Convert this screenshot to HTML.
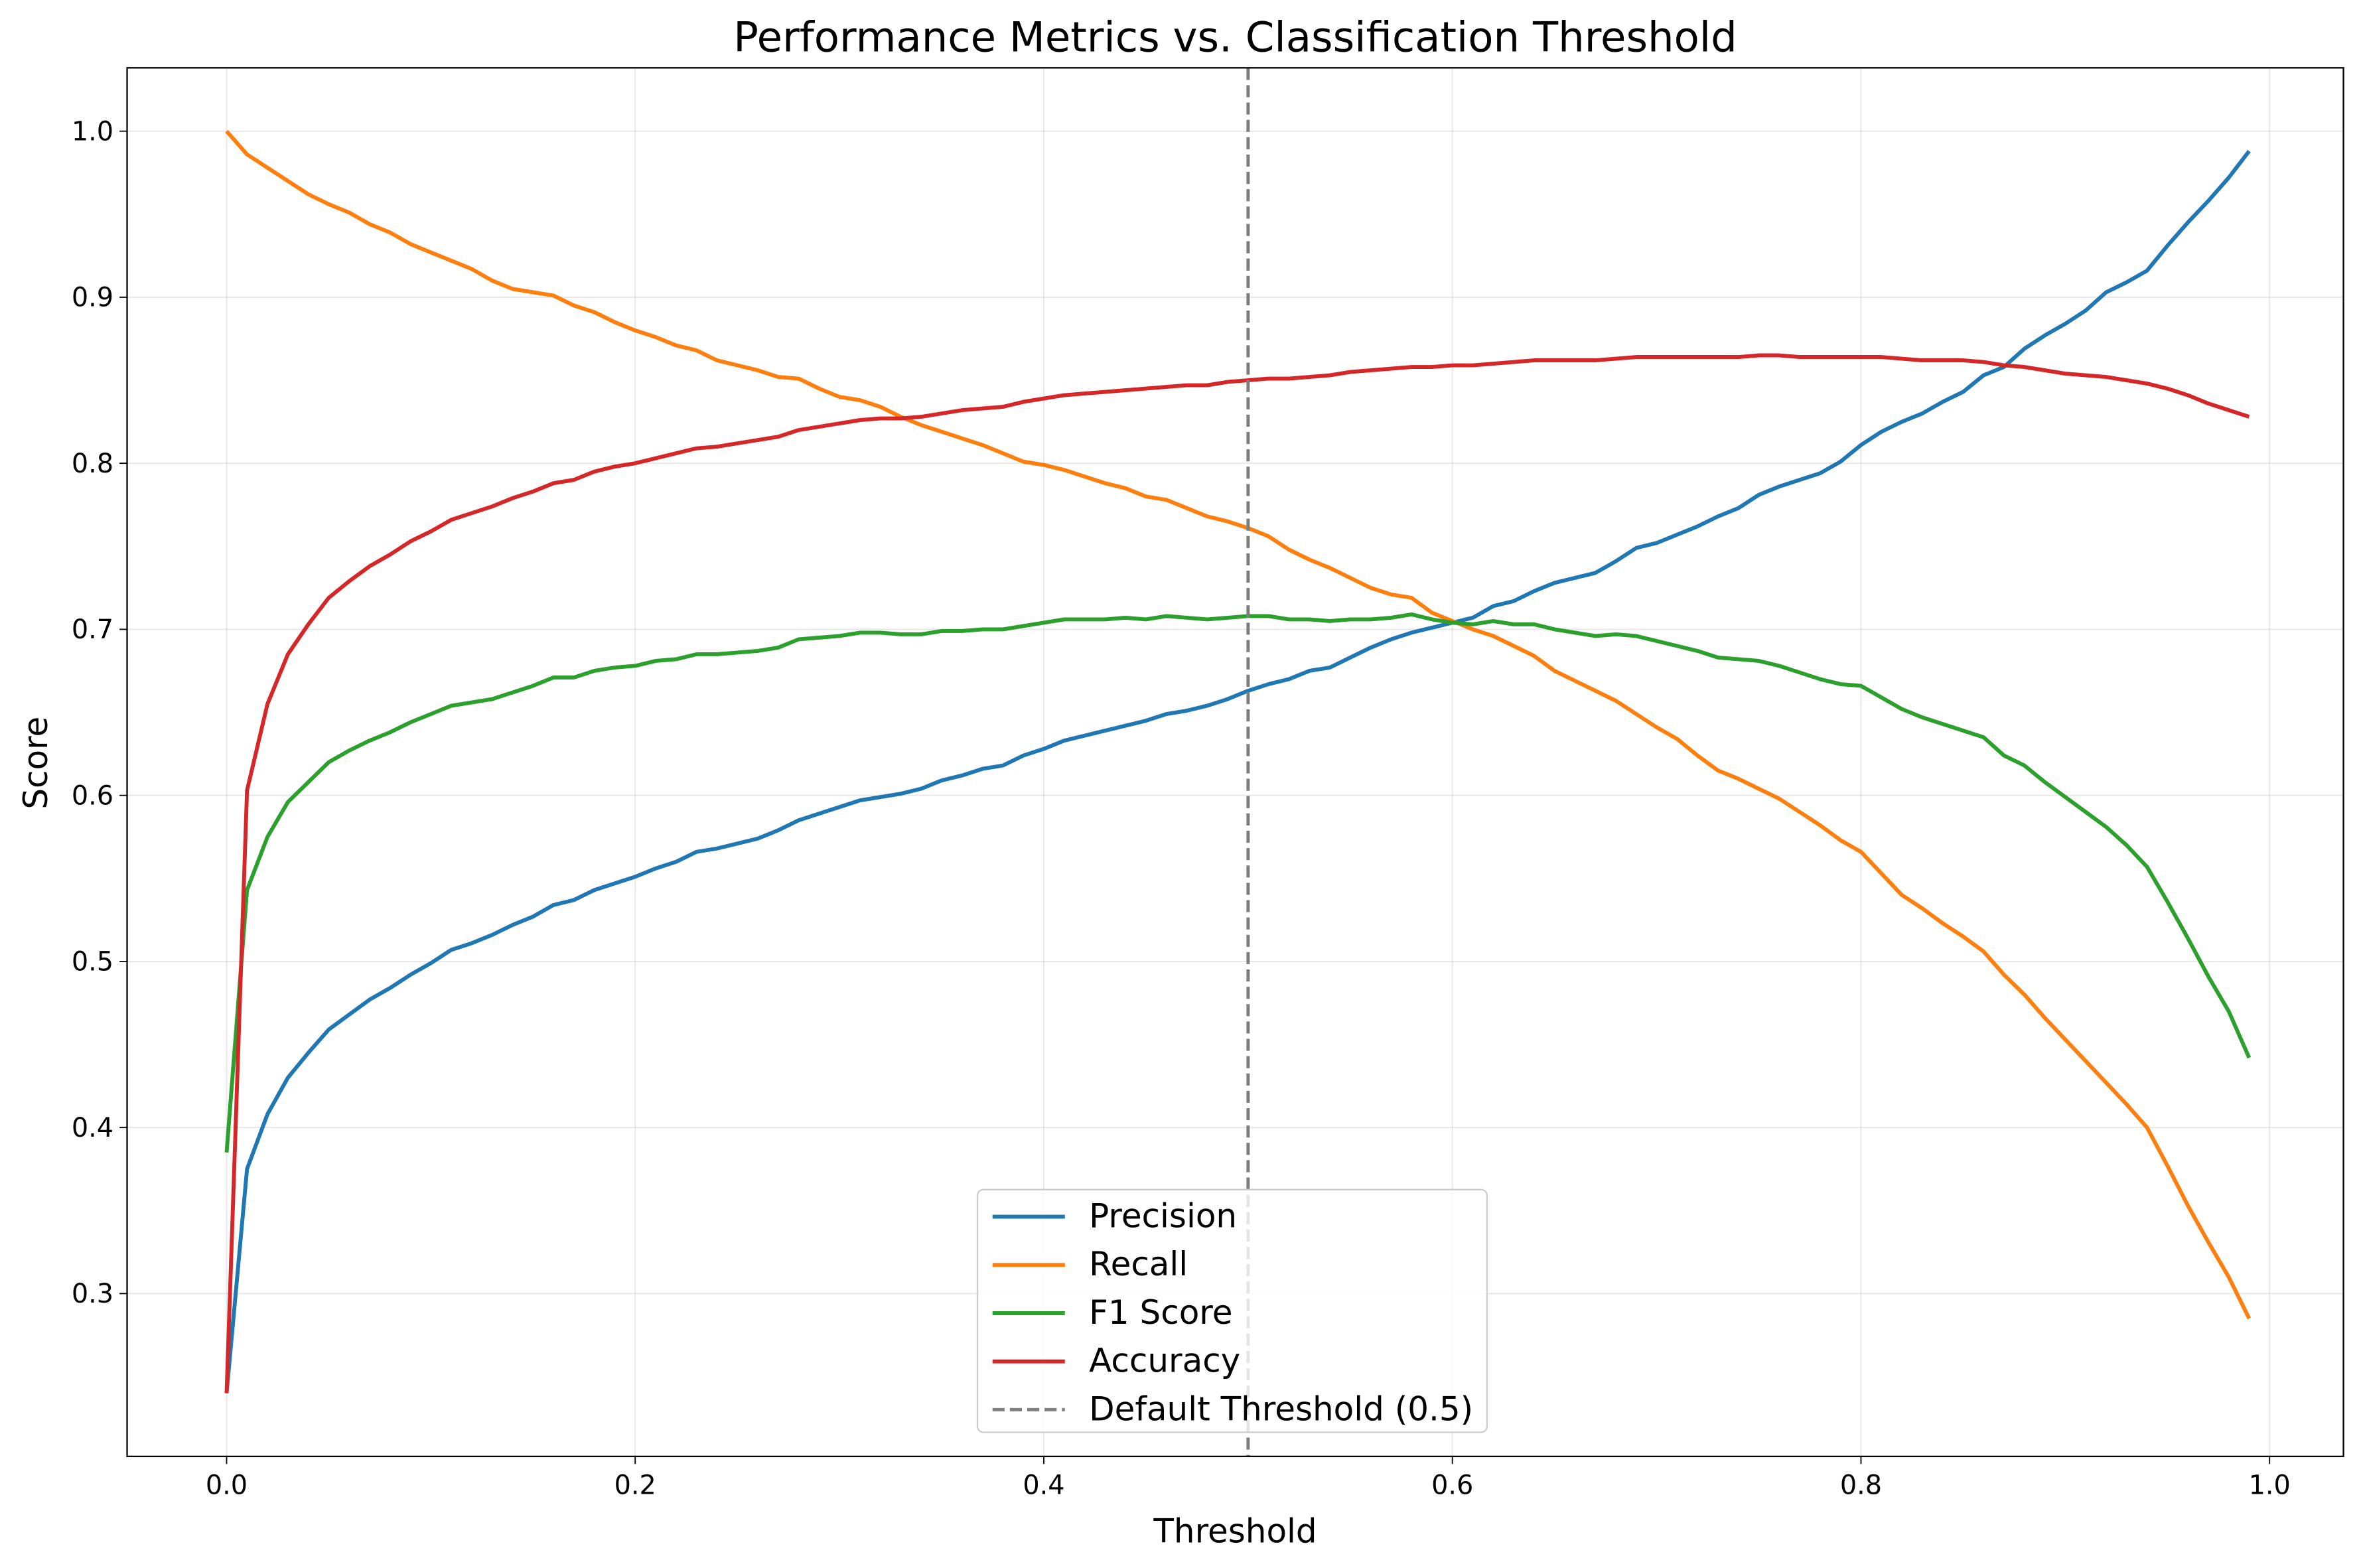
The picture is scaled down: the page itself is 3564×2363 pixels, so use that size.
<!DOCTYPE html>
<html><head><meta charset="utf-8"><style>
html,body{margin:0;padding:0;background:#fff;}
svg{display:block;font-family:"DejaVu Sans","Liberation Sans",sans-serif;}
</style></head><body>
<svg id="chart" width="3564" height="2363" viewBox="0 0 1568 1040" xmlns="http://www.w3.org/2000/svg">
<rect x="0" y="0" width="1568" height="1040" fill="#fff"/>
<text x="819" y="34" text-anchor="middle" font-size="27.5" fill="#000">Performance Metrics vs. Classification Threshold</text>
<g id="grid"></g>
<g id="series"></g>
<rect x="84" y="45" width="1470" height="921" fill="none" stroke="#000" stroke-width="1"/>
<g id="ticks"></g>
<text x="819" y="1023" text-anchor="middle" font-size="22">Threshold</text>
<text x="31" y="506" text-anchor="middle" font-size="22" transform="rotate(-90 31 506)">Score</text>
<g id="legend"></g>
</svg>
<script>
const thresholds = Array.from({length:100},(_, i)=>i/100);
const precision = [.24,.375,.408,.43,.445,.459,.468,.477,.484,.492,.499,.507,.511,.516,.522,.527,.534,.537,.543,.547,.551,.556,.56,.566,.568,.571,.574,.579,.585,.589,.593,.597,.599,.601,.604,.609,.612,.616,.618,.624,.628,.633,.636,.639,.642,.645,.649,.651,.654,.658,.663,.667,.67,.675,.677,.683,.689,.694,.698,.701,.704,.707,.714,.717,.723,.728,.731,.734,.741,.749,.752,.757,.762,.768,.773,.781,.786,.79,.794,.801,.811,.819,.825,.83,.837,.843,.853,.858,.869,.877,.884,.892,.903,.909,.916,.931,.945,.958,.972,.988];
const recall = [1,.986,.978,.97,.962,.956,.951,.944,.939,.932,.927,.922,.917,.91,.905,.903,.901,.895,.891,.885,.88,.876,.871,.868,.862,.859,.856,.852,.851,.845,.84,.838,.834,.828,.823,.819,.815,.811,.806,.801,.799,.796,.792,.788,.785,.78,.778,.773,.768,.765,.761,.756,.748,.742,.737,.731,.725,.721,.719,.71,.705,.7,.696,.69,.684,.675,.669,.663,.657,.649,.641,.634,.624,.615,.61,.604,.598,.59,.582,.573,.566,.553,.54,.532,.523,.515,.506,.492,.48,.466,.453,.44,.427,.414,.4,.377,.353,.331,.31,.285];
const f1 = [.385,.543,.575,.596,.608,.62,.627,.633,.638,.644,.649,.654,.656,.658,.662,.666,.671,.671,.675,.677,.678,.681,.682,.685,.685,.686,.687,.689,.694,.695,.696,.698,.698,.697,.697,.699,.699,.7,.7,.702,.704,.706,.706,.706,.707,.706,.708,.707,.706,.707,.708,.708,.706,.706,.705,.706,.706,.707,.709,.706,.704,.703,.705,.703,.703,.7,.698,.696,.697,.696,.693,.69,.687,.683,.682,.681,.678,.674,.67,.667,.666,.659,.652,.647,.643,.639,.635,.624,.618,.608,.599,.59,.581,.57,.557,.536,.514,.491,.47,.442];
const accuracy = [.24,.603,.655,.685,.703,.719,.729,.738,.745,.753,.759,.766,.77,.774,.779,.783,.788,.79,.795,.798,.8,.803,.806,.809,.81,.812,.814,.816,.82,.822,.824,.826,.827,.827,.828,.83,.832,.833,.834,.837,.839,.841,.842,.843,.844,.845,.846,.847,.847,.849,.85,.851,.851,.852,.853,.855,.856,.857,.858,.858,.859,.859,.86,.861,.862,.862,.862,.862,.863,.864,.864,.864,.864,.864,.864,.865,.865,.864,.864,.864,.864,.864,.863,.862,.862,.862,.861,.859,.858,.856,.854,.853,.852,.85,.848,.845,.841,.836,.832,.828];
const xTicks = [0,0.2,0.4,0.6,0.8,1.0];
const yTicks = [0.3,0.4,0.5,0.6,0.7,0.8,0.9,1.0];
const seriesNames = ["Precision","Recall","F1 Score","Accuracy"];
const defaultThreshold = 0.5;

const colors = ["#1f77b4","#ff7f0e","#2ca02c","#d62728"];
const NS="http://www.w3.org/2000/svg";
const X0=84,X1=1554,Y0=45,Y1=966;
function sx(v){return 150+v*1355;}
function sy(v){return 87+(1-v)*1101.4;}
function mk(tag,attrs,parent){const e=document.createElementNS(NS,tag);for(const k in attrs)e.setAttribute(k,attrs[k]);parent.appendChild(e);return e;}
const grid=document.getElementById('grid'),ticks=document.getElementById('ticks'),ser=document.getElementById('series'),leg=document.getElementById('legend');
xTicks.forEach(t=>{const x=sx(t);
 const g=mk('line',{x1:x,x2:x,y1:Y0,y2:Y1,stroke:'#b0b0b0','stroke-opacity':0.3,'stroke-width':0.8},grid);
 
 
 const tk=mk('line',{x1:x,x2:x,y1:Y1,y2:Y1+5,stroke:'#000','stroke-width':0.8},ticks);
 
 
 const tl=mk('text',{x:x,y:Y1+25,'text-anchor':'middle','font-size':17.5},ticks);tl.textContent=t.toFixed(1);
 
 
});
yTicks.forEach(t=>{const y=sy(t);
 const g=mk('line',{x1:X0,x2:X1,y1:y,y2:y,stroke:'#b0b0b0','stroke-opacity':0.3,'stroke-width':0.8},grid);
 
 
 const tk=mk('line',{x1:X0-5,x2:X0,y1:y,y2:y,stroke:'#000','stroke-width':0.8},ticks);
 
 
 const tl=mk('text',{x:X0-9,y:y+6,'text-anchor':'end','font-size':17.5},ticks);tl.textContent=t.toFixed(1);
 
 
});
[precision,recall,f1,accuracy].forEach((arr,i)=>{
 const d=arr.map((v,j)=>(j?'L':'M')+sx(thresholds[j]).toFixed(2)+','+sy(v).toFixed(2)).join('');
 const p=mk('path',{d:d,fill:'none',stroke:colors[i],'stroke-width':2.6,'stroke-linejoin':'round'},ser);
 
 
});
const vl=mk('line',{x1:sx(defaultThreshold),x2:sx(defaultThreshold),y1:Y0,y2:Y1,stroke:'#7f7f7f','stroke-width':2.2,'stroke-dasharray':'8,3.5'},ser);


const box=mk('rect',{x:648,y:789,width:338,height:161,rx:4,fill:'#fff','fill-opacity':0.8,stroke:'#ccc','stroke-width':1},leg);


const labels=seriesNames.concat(["Default Threshold (0.5)"]);
const lc=colors.concat(["#7f7f7f"]);
labels.forEach((l,i)=>{const y=807+i*32;
 const ln=mk('line',{x1:658,x2:706,y1:y,y2:y,stroke:lc[i],'stroke-width':2.6},leg);
 if(i==4){ln.setAttribute('stroke-dasharray','8,3.5');ln.setAttribute('stroke-width','2.2');}
 
 
 const t=mk('text',{x:722,y:y+7,'font-size':22},leg);t.textContent=l;
 
 
});
</script>
</body></html>
